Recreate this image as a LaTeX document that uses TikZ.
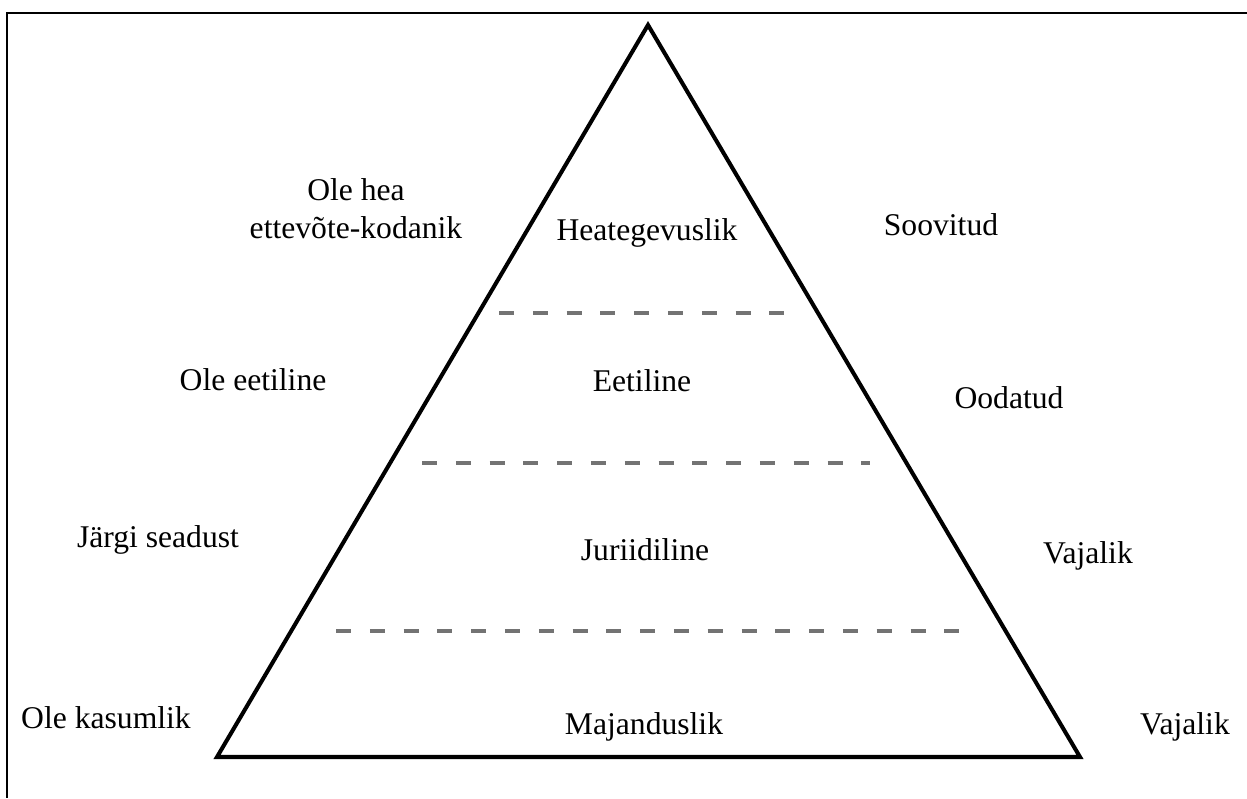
\documentclass[tikz,border=0pt]{standalone}
\usepackage{fontspec}
\setmainfont{Liberation Serif}
\usetikzlibrary{positioning}

\begin{document}
\begin{tikzpicture}[x=0.02cm, y=-0.02cm,
    lbl/.style={font=\fontsize{18}{21.5}\selectfont, inner sep=0pt, align=center},
    layer/.style={line width=2.2pt, draw=black!55, dash pattern=on 0.3cm off 0.376cm},
    pyr/.style={line width=2.3pt, line join=miter}]
  \useasboundingbox (0,0) rectangle (1247,798);
  % cornice
  \draw[line width=1.3pt] (1247,13) -- (7,13) -- (7,798);

  % vertici della piramide
  \coordinate (apex) at (648,25);
  \coordinate (bl) at (217,757);
  \coordinate (br) at (1080,757);
  \draw[pyr] (apex) -- (bl) -- (br) -- cycle;

  % separatori tra i livelli
  \coordinate (s1l) at (499,313); \coordinate (s1r) at (793,313);
  \coordinate (s2l) at (422,463); \coordinate (s2r) at (870,463);
  \coordinate (s3l) at (336,631); \coordinate (s3r) at (960,631);
  \draw[layer] (s1l) -- (s1r);
  \draw[layer] (s2l) -- (s2r);
  \draw[layer] (s3l) -- (s3r);

  % livelli
  \node[lbl] (heat) at (647,233) {Heategevuslik};
  \node[lbl] (eet)  at (642,381) {Eetiline};
  \node[lbl] (jur)  at (645,550) {Juriidiline};
  \node[lbl] (maj)  at (644,727) {Majanduslik};

  % a sinistra
  \node[lbl] (kodanik) at (356,209) {Ole hea\\ettevõte-kodanik};
  \node[lbl] (oleeet)  at (253,380) {Ole eetiline};
  \node[lbl] (seadust) at (158,540) {Järgi seadust};
  \node[lbl] (kasum)   at (106,718) {Ole kasumlik};

  % a destra
  \node[lbl] (soov) at (941,225) {Soovitud};
  \node[lbl] (ood)  at (1009,398) {Oodatud};
  \node[lbl] (vaj1) at (1088,556) {Vajalik};
  \node[lbl] (vaj2) at (1185,727) {Vajalik};
\end{tikzpicture}
\end{document}
